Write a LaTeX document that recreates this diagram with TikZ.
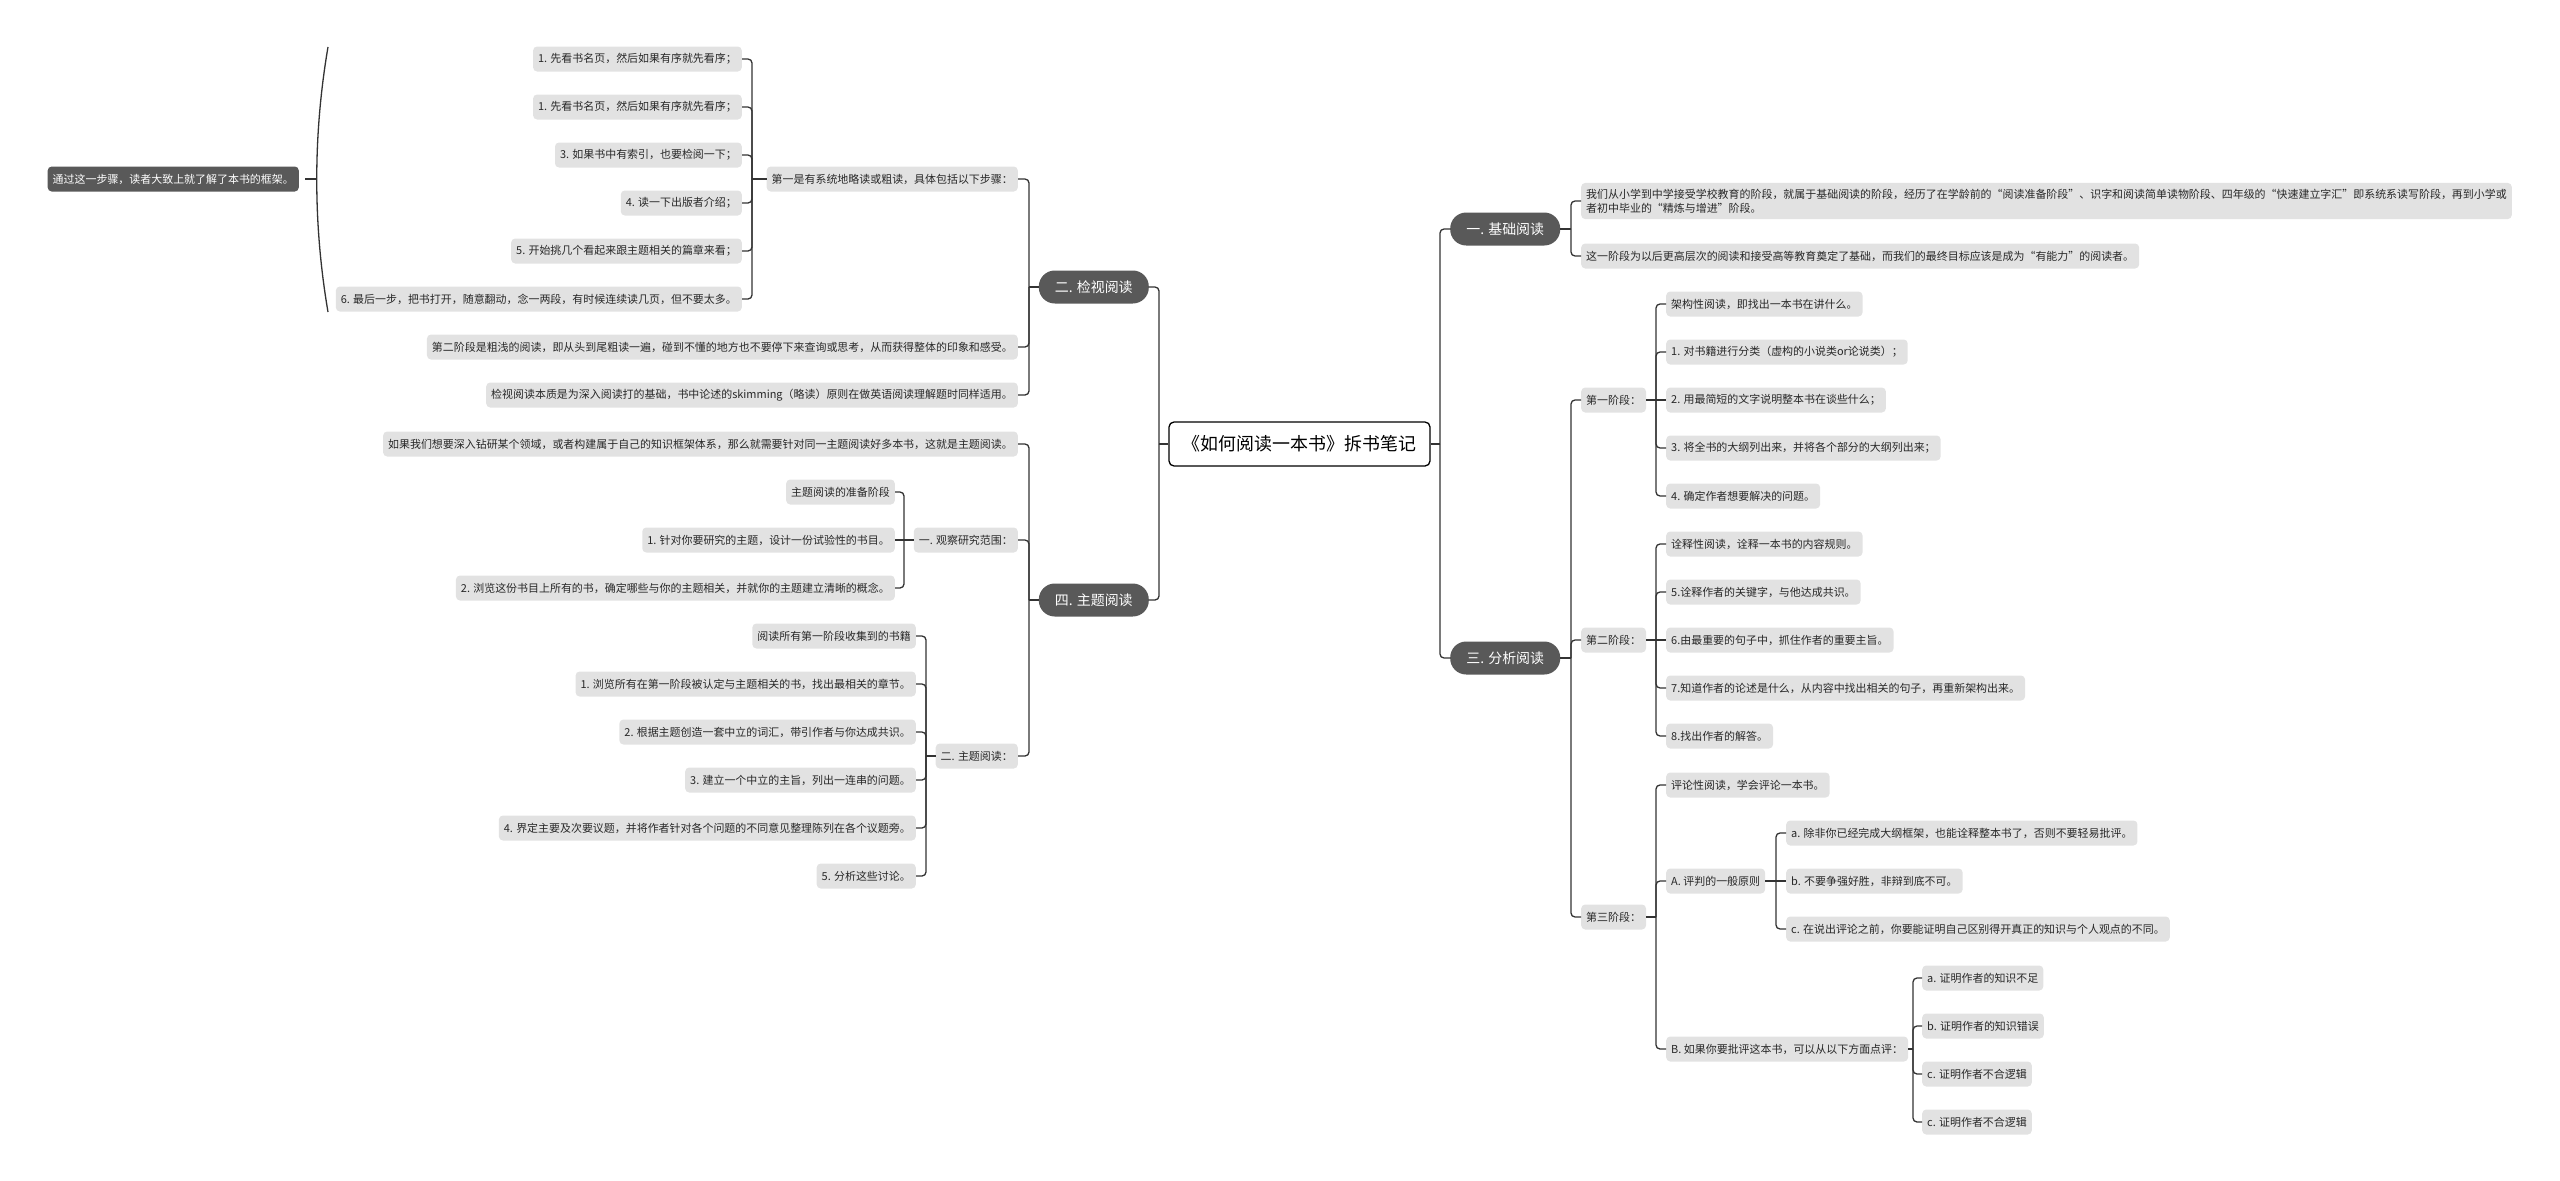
\documentclass[tikz,border=0pt]{standalone}
\usepackage{fontspec}
\usepackage{tikz}
\newfontfamily\cjk{Noto Sans CJK SC}
\definecolor{topicgray}{RGB}{89,89,89}
\definecolor{leafgray}{RGB}{226,226,226}
\definecolor{linegray}{RGB}{51,51,51}
\definecolor{textgray}{RGB}{40,40,40}

\begin{document}
\begin{tikzpicture}[yscale=-1]
      \tikzstyle{every node}=[font=\cjk]
      \tikzstyle{leaf}=[fill=leafgray, text=textgray, rounded corners=4bp, minimum height=25bp, inner xsep=5bp, inner ysep=0bp, font=\cjk\fontsize{11}{14}\selectfont]
      \tikzstyle{note}=[leaf, fill=topicgray, text=white]
      \tikzstyle{topic}=[fill=topicgray, text=white, rounded corners=16bp, minimum width=110bp, minimum height=33bp, font=\cjk\fontsize{14}{17}\selectfont]
      \tikzstyle{root}=[draw=black, line width=1.3bp, fill=white, rounded corners=5bp, minimum width=261bp, minimum height=44bp, font=\cjk\fontsize{18}{22}\selectfont]
      \tikzstyle{link}=[draw=linegray, line width=1.3bp, rounded corners=4bp]
      \useasboundingbox (0bp,0bp) rectangle (2560bp,1181bp);
      %% root and main topics
  \node (v0) at (1299.5bp,444bp) [root] {《如何阅读一本书》拆书笔记};
  \node (v1) at (1450bp,229bp) [topic, anchor=west] {一. 基础阅读};
  \node (v2) at (1149bp,287bp) [topic, anchor=east] {二. 检视阅读};
  \node (v3) at (1450bp,658bp) [topic, anchor=west] {三. 分析阅读};
  \node (v4) at (1149bp,600bp) [topic, anchor=east] {四. 主题阅读};
  \coordinate (t0l) at (1159bp,444bp);
  \coordinate (t0r) at (1440bp,444bp);
  \draw [link] (v0.west) -- (t0l);
  \draw [link] (v0.east) -- (t0r);
  \draw [link] (t0l) |- (v2.east);
  \draw [link] (t0l) |- (v4.east);
  \draw [link] (t0r) |- (v1.west);
  \draw [link] (t0r) |- (v3.west);
      %% one
  \node (v1_1) at (1581bp,201bp) [leaf, anchor=west, align=left, inner ysep=6bp] {我们从小学到中学接受学校教育的阶段，就属于基础阅读的阶段，经历了在学龄前的“阅读准备阶段”、识字和阅读简单读物阶段、四年级的“快速建立字汇”即系统系读写阶段，再到小学或\\者初中毕业的“精炼与增进”阶段。};
  \node (v1_2) at (1581bp,256bp) [leaf, anchor=west] {这一阶段为以后更高层次的阅读和接受高等教育奠定了基础，而我们的最终目标应该是成为“有能力”的阅读者。};
  \coordinate (t1) at (1571bp,229bp);
  \draw [link] (v1.east) -- (t1);
  \draw [link] (t1) |- (v1_1.west);
  \draw [link] (t1) |- (v1_2.west);
      %% two
  \node (v2_1) at (1018bp,179bp) [leaf, anchor=east] {第一是有系统地略读或粗读，具体包括以下步骤：};
  \node (v2_2) at (1018bp,347bp) [leaf, anchor=east] {第二阶段是粗浅的阅读，即从头到尾粗读一遍，碰到不懂的地方也不要停下来查询或思考，从而获得整体的印象和感受。};
  \node (v2_3) at (1018bp,395bp) [leaf, anchor=east] {检视阅读本质是为深入阅读打的基础，书中论述的skimming（略读）原则在做英语阅读理解题时同样适用。};
  \coordinate (t2) at (1029bp,287bp);
  \draw [link] (v2.west) -- (t2);
  \draw [link] (t2) |- (v2_1.east);
  \draw [link] (t2) |- (v2_2.east);
  \draw [link] (t2) |- (v2_3.east);
  \node (v2_1_1) at (742bp,59bp) [leaf, anchor=east] {1. 先看书名页，然后如果有序就先看序；};
  \node (v2_1_2) at (742bp,107bp) [leaf, anchor=east] {1. 先看书名页，然后如果有序就先看序；};
  \node (v2_1_3) at (742bp,155bp) [leaf, anchor=east] {3. 如果书中有索引，也要检阅一下；};
  \node (v2_1_4) at (742bp,203bp) [leaf, anchor=east] {4. 读一下出版者介绍；};
  \node (v2_1_5) at (742bp,251bp) [leaf, anchor=east] {5. 开始挑几个看起来跟主题相关的篇章来看；};
  \node (v2_1_6) at (742bp,299bp) [leaf, anchor=east] {6. 最后一步，把书打开，随意翻动，念一两段，有时候连续读几页，但不要太多。};
  \coordinate (t2_1) at (752bp,179bp);
  \draw [link] (v2_1.west) -- (t2_1);
  \draw [link] (t2_1) |- (v2_1_1.east);
  \draw [link] (t2_1) |- (v2_1_2.east);
  \draw [link] (t2_1) |- (v2_1_3.east);
  \draw [link] (t2_1) |- (v2_1_4.east);
  \draw [link] (t2_1) |- (v2_1_5.east);
  \draw [link] (t2_1) |- (v2_1_6.east);
      % summary brace
  \node (v2_1s) at (299bp,179bp) [note, anchor=east] {通过这一步骤，读者大致上就了解了本书的框架。};
  \coordinate (b_top) at (328bp,47bp);
  \coordinate (b_mid) at (317bp,179bp);
  \coordinate (b_bot) at (328bp,312bp);
  \draw [link] ([xshift=6bp]v2_1s.east) -- (b_mid);
  \draw [link] (b_top) .. controls (313bp,135bp) and (313bp,224bp) .. (b_bot);
      %% four
  \node (v4_1) at (1018bp,444bp) [leaf, anchor=east] {如果我们想要深入钻研某个领域，或者构建属于自己的知识框架体系，那么就需要针对同一主题阅读好多本书，这就是主题阅读。};
  \node (v4_2) at (1018bp,540bp) [leaf, anchor=east] {一. 观察研究范围：};
  \node (v4_3) at (1018bp,756bp) [leaf, anchor=east] {二. 主题阅读：};
  \coordinate (t4) at (1029bp,600bp);
  \draw [link] (v4.west) -- (t4);
  \draw [link] (t4) |- (v4_1.east);
  \draw [link] (t4) |- (v4_2.east);
  \draw [link] (t4) |- (v4_3.east);
  \node (v4_2_1) at (895bp,492bp) [leaf, anchor=east] {主题阅读的准备阶段};
  \node (v4_2_2) at (895bp,540bp) [leaf, anchor=east] {1. 针对你要研究的主题，设计一份试验性的书目。};
  \node (v4_2_3) at (895bp,588bp) [leaf, anchor=east] {2. 浏览这份书目上所有的书，确定哪些与你的主题相关，并就你的主题建立清晰的概念。};
  \coordinate (t4_2) at (904bp,540bp);
  \draw [link] (v4_2.west) -- (t4_2);
  \draw [link] (t4_2) |- (v4_2_1.east);
  \draw [link] (t4_2) -- (v4_2_2.east);
  \draw [link] (t4_2) |- (v4_2_3.east);
  \node (v4_3_1) at (916bp,636bp) [leaf, anchor=east] {阅读所有第一阶段收集到的书籍};
  \node (v4_3_2) at (916bp,684bp) [leaf, anchor=east] {1. 浏览所有在第一阶段被认定与主题相关的书，找出最相关的章节。};
  \node (v4_3_3) at (916bp,732bp) [leaf, anchor=east] {2. 根据主题创造一套中立的词汇，带引作者与你达成共识。};
  \node (v4_3_4) at (916bp,780bp) [leaf, anchor=east] {3. 建立一个中立的主旨，列出一连串的问题。};
  \node (v4_3_5) at (916bp,828bp) [leaf, anchor=east] {4. 界定主要及次要议题，并将作者针对各个问题的不同意见整理陈列在各个议题旁。};
  \node (v4_3_6) at (916bp,876bp) [leaf, anchor=east] {5. 分析这些讨论。};
  \coordinate (t4_3) at (926bp,756bp);
  \draw [link] (v4_3.west) -- (t4_3);
  \draw [link] (t4_3) |- (v4_3_1.east);
  \draw [link] (t4_3) |- (v4_3_2.east);
  \draw [link] (t4_3) |- (v4_3_3.east);
  \draw [link] (t4_3) |- (v4_3_4.east);
  \draw [link] (t4_3) |- (v4_3_5.east);
  \draw [link] (t4_3) |- (v4_3_6.east);
      %% three
  \node (v3_1) at (1581bp,400bp) [leaf, anchor=west] {第一阶段：};
  \node (v3_2) at (1581bp,640bp) [leaf, anchor=west] {第二阶段：};
  \node (v3_3) at (1581bp,917bp) [leaf, anchor=west] {第三阶段：};
  \coordinate (t3) at (1571bp,658bp);
  \draw [link] (v3.east) -- (t3);
  \draw [link] (t3) |- (v3_1.west);
  \draw [link] (t3) |- (v3_2.west);
  \draw [link] (t3) |- (v3_3.west);
  \node (v3_1_1) at (1666bp,304bp) [leaf, anchor=west] {架构性阅读，即找出一本书在讲什么。};
  \node (v3_1_2) at (1666bp,352bp) [leaf, anchor=west] {1. 对书籍进行分类（虚构的小说类or论说类）；};
  \node (v3_1_3) at (1666bp,400bp) [leaf, anchor=west] {2. 用最简短的文字说明整本书在谈些什么；};
  \node (v3_1_4) at (1666bp,448bp) [leaf, anchor=west] {3. 将全书的大纲列出来，并将各个部分的大纲列出来；};
  \node (v3_1_5) at (1666bp,496bp) [leaf, anchor=west] {4. 确定作者想要解决的问题。};
  \coordinate (t3_1) at (1656bp,400bp);
  \draw [link] (v3_1.east) -- (t3_1);
  \draw [link] (t3_1) |- (v3_1_1.west);
  \draw [link] (t3_1) |- (v3_1_2.west);
  \draw [link] (t3_1) -- (v3_1_3.west);
  \draw [link] (t3_1) |- (v3_1_4.west);
  \draw [link] (t3_1) |- (v3_1_5.west);
  \node (v3_2_1) at (1666bp,544bp) [leaf, anchor=west] {诠释性阅读，诠释一本书的内容规则。};
  \node (v3_2_2) at (1666bp,592bp) [leaf, anchor=west] {5.诠释作者的关键字，与他达成共识。};
  \node (v3_2_3) at (1666bp,640bp) [leaf, anchor=west] {6.由最重要的句子中，抓住作者的重要主旨。};
  \node (v3_2_4) at (1666bp,688bp) [leaf, anchor=west] {7.知道作者的论述是什么，从内容中找出相关的句子，再重新架构出来。};
  \node (v3_2_5) at (1666bp,736bp) [leaf, anchor=west] {8.找出作者的解答。};
  \coordinate (t3_2) at (1656bp,640bp);
  \draw [link] (v3_2.east) -- (t3_2);
  \draw [link] (t3_2) |- (v3_2_1.west);
  \draw [link] (t3_2) |- (v3_2_2.west);
  \draw [link] (t3_2) -- (v3_2_3.west);
  \draw [link] (t3_2) |- (v3_2_4.west);
  \draw [link] (t3_2) |- (v3_2_5.west);
  \node (v3_3_1) at (1666bp,785bp) [leaf, anchor=west] {评论性阅读，学会评论一本书。};
  \node (v3_3_2) at (1666bp,881bp) [leaf, anchor=west] {A. 评判的一般原则};
  \node (v3_3_3) at (1666bp,1049bp) [leaf, anchor=west] {B. 如果你要批评这本书，可以从以下方面点评：};
  \coordinate (t3_3) at (1656bp,917bp);
  \draw [link] (v3_3.east) -- (t3_3);
  \draw [link] (t3_3) |- (v3_3_1.west);
  \draw [link] (t3_3) |- (v3_3_2.west);
  \draw [link] (t3_3) |- (v3_3_3.west);
  \node (v3_3_2_1) at (1786bp,833bp) [leaf, anchor=west] {a. 除非你已经完成大纲框架，也能诠释整本书了，否则不要轻易批评。};
  \node (v3_3_2_2) at (1786bp,881bp) [leaf, anchor=west] {b. 不要争强好胜，非辩到底不可。};
  \node (v3_3_2_3) at (1786bp,929bp) [leaf, anchor=west] {c. 在说出评论之前，你要能证明自己区别得开真正的知识与个人观点的不同。};
  \coordinate (t3_3_2) at (1776bp,881bp);
  \draw [link] (v3_3_2.east) -- (t3_3_2);
  \draw [link] (t3_3_2) |- (v3_3_2_1.west);
  \draw [link] (t3_3_2) -- (v3_3_2_2.west);
  \draw [link] (t3_3_2) |- (v3_3_2_3.west);
  \node (v3_3_3_1) at (1922bp,978bp) [leaf, anchor=west] {a. 证明作者的知识不足};
  \node (v3_3_3_2) at (1922bp,1026bp) [leaf, anchor=west] {b. 证明作者的知识错误};
  \node (v3_3_3_3) at (1922bp,1074bp) [leaf, anchor=west] {c. 证明作者不合逻辑};
  \node (v3_3_3_4) at (1922bp,1122bp) [leaf, anchor=west] {c. 证明作者不合逻辑};
  \coordinate (t3_3_3) at (1913bp,1049bp);
  \draw [link] (v3_3_3.east) -- (t3_3_3);
  \draw [link] (t3_3_3) |- (v3_3_3_1.west);
  \draw [link] (t3_3_3) |- (v3_3_3_2.west);
  \draw [link] (t3_3_3) |- (v3_3_3_3.west);
  \draw [link] (t3_3_3) |- (v3_3_3_4.west);
%
    \end{tikzpicture}
\end{document}
